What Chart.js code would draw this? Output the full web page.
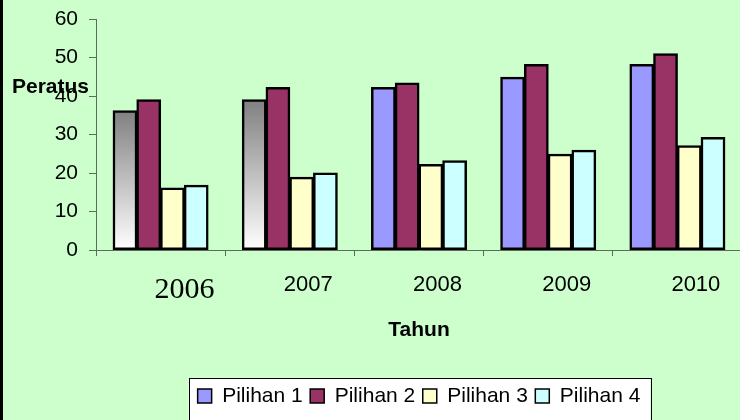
<!DOCTYPE html>
<html><head><meta charset="utf-8">
<script src="https://cdn.jsdelivr.net/npm/chart.js@4.4.1/dist/chart.umd.min.js"></script>
<style>
html,body{margin:0;padding:0;overflow:hidden;background:#CCFFCC;width:740px;height:420px}
#wrap{position:relative;width:746px;height:420px}
canvas{display:block}
</style></head>
<body><div id="wrap"><canvas id="c" width="746" height="420"></canvas></div>
<script>
// ---- data ----
const categories = ['2006', '2007', '2008', '2009', '2010'];
const seriesNames = ['Pilihan 1', 'Pilihan 2', 'Pilihan 3', 'Pilihan 4'];
const pilihan1 = [36.2, 39.0, 42.2, 44.9, 48.2];
const pilihan2 = [39.0, 42.2, 43.4, 48.2, 51.0];
const pilihan3 = [16.1, 18.9, 22.2, 24.9, 27.1];
const pilihan4 = [16.8, 20.0, 23.2, 25.9, 29.2];
const yTickValues = [0, 10, 20, 30, 40, 50, 60];
const yTitle = 'Peratus';
const xTitle = 'Tahun';

// ---- styles ----
const COLORS = ['#9999FF', '#993366', '#FFFFCC', '#CCFFFF'];
const SANS = "'Liberation Sans', Arial, sans-serif";
const SERIF = "'Liberation Serif', 'Times New Roman', serif";
const AXIS = '#5f6b5f';

function p1Color(ctx) {
  if (ctx.type !== 'data' || ctx.dataIndex > 1) return COLORS[0];
  const chart = ctx.chart, ys = chart.scales.y;
  if (!chart.chartArea || !ys) return COLORS[0];
  const top = ys.getPixelForValue(ctx.raw), bot = ys.getPixelForValue(0);
  const g = chart.ctx.createLinearGradient(0, top, 0, bot);
  g.addColorStop(0, '#808080');
  g.addColorStop(1, '#FFFFFF');
  return g;
}

const seriesValues = [pilihan1, pilihan2, pilihan3, pilihan4];
const datasets = seriesNames.map((name, i) => ({
  label: name,
  data: seriesValues[i],
  backgroundColor: i === 0 ? p1Color : COLORS[i],
  borderColor: '#000000',
  borderWidth: 2.5,
  borderSkipped: false,
  inflateAmount: 0.5,
  categoryPercentage: 0.735,
  barPercentage: 1.0
}));

const decor = {
  id: 'decor',
  beforeDraw(chart) {
    const c = chart.ctx;
    c.save();
    c.fillStyle = '#CCFFCC';
    c.fillRect(0, 0, chart.width, chart.height);
    const lg = chart.legend;
    if (lg && lg.legendHitBoxes && lg.legendHitBoxes.length) {
      const hb = lg.legendHitBoxes;
      const left = hb[0].left - 9;
      const last = hb[hb.length - 1];
      const right = last.left + last.width + 10;
      c.fillStyle = '#FFFFFF';
      c.fillRect(left, lg.top, right - left, chart.height - lg.top + 5);
      c.strokeStyle = '#000000';
      c.lineWidth = 1;
      c.strokeRect(Math.round(left) + 0.5, Math.round(lg.top) + 0.5, Math.round(right - left), chart.height);
    }
    c.restore();
  },
  afterDraw(chart) {
    const c = chart.ctx;
    c.save();
    c.fillStyle = '#000000';
    c.font = 'bold 21px ' + SANS;
    c.textAlign = 'left';
    c.textBaseline = 'middle';
    c.fillText(yTitle, 12, 87.5);
    c.fillRect(0, 0, 3, chart.height);
    c.restore();
  }
};

new Chart(document.getElementById('c'), {
  type: 'bar',
  data: { labels: categories, datasets },
  plugins: [decor],
  options: {
    responsive: false,
    animation: false,
    layout: { padding: { top: 19, left: 0, right: 4, bottom: 3.5 } },
    plugins: {
      tooltip: { enabled: false },
      legend: {
        position: 'bottom',
        fullSize: false,
        labels: {
          font: { family: SANS, size: 21 },
          color: '#000000',
          boxWidth: 14,
          boxHeight: 14,
          padding: 7.5,
          generateLabels(chart) {
            return chart.data.datasets.map((ds, i) => ({
              text: ds.label,
              fillStyle: COLORS[i],
              strokeStyle: '#000000',
              lineWidth: 1.5,
              hidden: false,
              datasetIndex: i
            }));
          }
        }
      }
    },
    scales: {
      x: {
        afterFit(s) { s.height = 128; },
        grid: { display: true, drawOnChartArea: false, drawTicks: true, tickLength: 6, color: AXIS, offset: true },
        border: { color: AXIS, width: 1 },
        ticks: {
          align: 'start',
          labelOffset: -6,
          padding: 16,
          color: '#000000',
          maxRotation: 0,
          autoSkip: false,
          font: (c) => c.index === 0 ? { family: SERIF, size: 30 } : { family: SANS, size: 22 }
        },
        title: {
          display: true,
          text: xTitle,
          color: '#000000',
          font: { family: SANS, size: 21, weight: 'bold' },
          padding: { top: 0, bottom: 35 }
        }
      },
      y: {
        min: 0,
        max: 60,
        afterFit(s) { s.width = 96; s.paddingTop = 0; s.paddingBottom = 0; },
        afterBuildTicks(s) { s.ticks = yTickValues.map(v => ({ value: v })); },
        grid: { display: true, drawOnChartArea: false, drawTicks: true, tickLength: 7, color: AXIS },
        border: { color: AXIS, width: 1 },
        ticks: {
          padding: 11,
          color: '#000000',
          font: { family: SANS, size: 21 }
        }
      }
    }
  }
});
</script>
</body></html>
